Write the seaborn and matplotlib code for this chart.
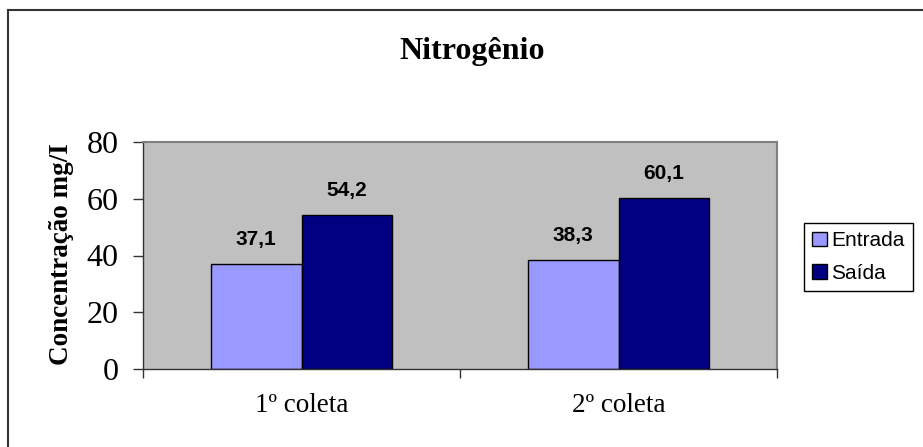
import matplotlib
matplotlib.use("Agg")
import matplotlib.pyplot as plt
from matplotlib.lines import Line2D
import seaborn as sns
import pandas as pd

# Data
categories = ["1º coleta", "2º coleta"]
series_names = ["Entrada", "Saída"]
entrada = [37.1, 38.3]
saida = [54.2, 60.1]
yticks = [0, 20, 40, 60, 80]
colors = ["#9999FF", "#000080"]

df = pd.DataFrame({
    "coleta": categories * 2,
    "serie": [series_names[0]] * len(categories) + [series_names[1]] * len(categories),
    "valor": entrada + saida,
})

serif = "Liberation Serif"
sans = "Liberation Sans"

fig = plt.figure(figsize=(9.23, 4.47), dpi=100)
fig.patch.set_facecolor("white")
ax = fig.add_axes([143 / 923, 1 - 369 / 447, (777 - 143) / 923, (369 - 142) / 447])

sns.barplot(data=df, x="coleta", y="valor", hue="serie", order=categories,
            hue_order=series_names, palette=colors, width=0.573, gap=0,
            edgecolor="black", linewidth=1.0, saturation=1, ax=ax, legend=True)

ax.set_facecolor("#C0C0C0")
ax.set_ylim(0, 80)
ax.set_xlim(-0.5, 1.5)
ax.set_yticks(yticks)
ax.set_yticklabels([str(v) for v in yticks], fontfamily=serif, fontsize=23)
ax.set_xticks(range(len(categories)))
ax.set_xticklabels(categories, fontfamily=serif, fontsize=19.5)
ax.set_xticks([-0.5, 0.5, 1.5], minor=True)
ax.tick_params(axis="x", which="major", length=0, pad=17)
ax.tick_params(axis="x", which="minor", length=6.5, direction="out", color="#333333", width=1)
ax.tick_params(axis="y", which="major", length=7.2, direction="out", color="#333333", width=1, pad=10.5)
ax.set_xlabel("")
ax.set_ylabel("")
for side in ["left", "bottom"]:
    ax.spines[side].set_color("#333333")
    ax.spines[side].set_linewidth(1.0)
for side in ["top", "right"]:
    ax.spines[side].set_color("#808080")
    ax.spines[side].set_linewidth(1.5)

# value labels
for cont in ax.containers:
    for bar in cont:
        h = bar.get_height()
        ax.annotate(f"{h:.1f}".replace(".", ","),
                    (bar.get_x() + bar.get_width() / 2, h),
                    xytext=(0, 13.7), textcoords="offset points",
                    ha="center", va="baseline", fontfamily=sans,
                    fontweight="bold", fontsize=15, color="black")

# legend
leg = ax.get_legend()
handles, labels = ax.get_legend_handles_labels()
leg.remove()
lg = fig.legend(handles, labels, loc="center left",
                bbox_to_anchor=(804 / 923, 1 - 257 / 447),
                bbox_transform=fig.transFigure, borderaxespad=0,
                frameon=True, fancybox=False, shadow=False, framealpha=1,
                edgecolor="black", prop={"family": sans, "size": 15},
                handlelength=0.7, handleheight=0.7, handletextpad=0.2,
                labelspacing=0.65, borderpad=0.4)
lg.get_frame().set_linewidth(1.0)

# title and y label
fig.text(472 / 923, 1 - 59 / 447, "Nitrogênio", ha="center", va="baseline",
         fontfamily=serif, fontweight="bold", fontsize=23)
fig.text(62 / 923, 1 - 254 / 447, "Concentração mg/I", ha="center", va="center",
         rotation=90, fontfamily=serif, fontweight="bold", fontsize=19.5)

# outer frame (left and top edges visible)
fig.add_artist(Line2D([8 / 923, 8 / 923], [0, 1 - 10 / 447], transform=fig.transFigure,
                      color="#333333", linewidth=1.5))
fig.add_artist(Line2D([8 / 923, 1], [1 - 10 / 447, 1 - 10 / 447], transform=fig.transFigure,
                      color="#333333", linewidth=1.5))

fig.savefig("out.png", dpi=100, facecolor="white")
